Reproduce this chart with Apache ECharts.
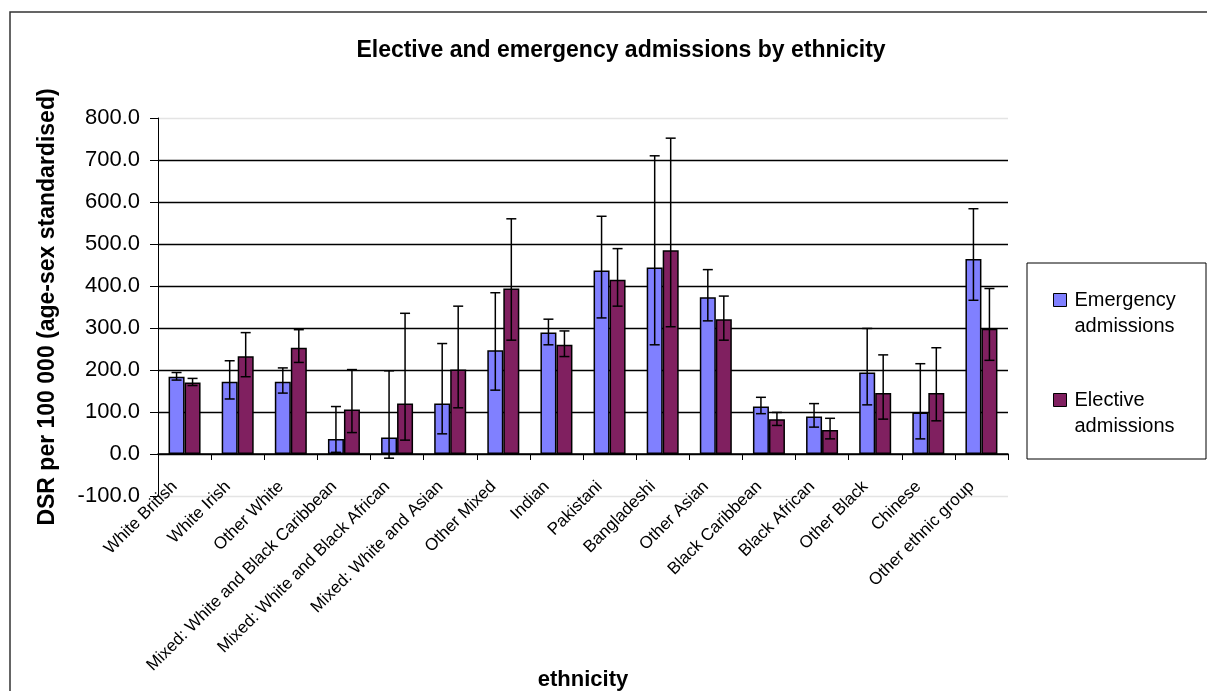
<!DOCTYPE html>
<html>
<head>
<meta charset="utf-8">
<script src="https://cdn.jsdelivr.net/npm/echarts@6/dist/echarts.min.js"></script>
<style>
  html, body { margin: 0; padding: 0; background: #fff; }
  #chart { width: 1207px; height: 691px; }
</style>
</head>
<body>
<div id="chart"></div>
<script>
// ethnic groups along the x axis
var categories = ['White British', 'White Irish', 'Other White', 'Mixed: White and Black Caribbean',
  'Mixed: White and Black African', 'Mixed: White and Asian', 'Other Mixed', 'Indian', 'Pakistani',
  'Bangladeshi', 'Other Asian', 'Black Caribbean', 'Black African', 'Other Black', 'Chinese',
  'Other ethnic group'];

// emergency admissions + confidence limits
var emergency = [184, 172, 172, 36, 39, 120, 247, 289, 437, 444, 373, 113, 89, 194, 99, 464];
var emergencyLow = [176, 131, 145, 4, -10, 48, 152, 260, 324, 260, 317, 96, 64, 117, 36, 366];
var emergencyHigh = [194, 222, 205, 113, 198, 263, 384, 321, 566, 710, 439, 135, 120, 299, 215, 584];

// elective admissions + confidence limits
var elective = [170, 233, 253, 106, 120, 201, 394, 260, 415, 485, 321, 83, 57, 145, 145, 298];
var electiveLow = [163, 184, 218, 51, 33, 110, 271, 232, 352, 303, 271, 68, 36, 83, 79, 223];
var electiveHigh = [180, 289, 296, 201, 335, 352, 560, 293, 489, 752, 376, 99, 85, 236, 253, 394];

var seriesNames = ['Emergency admissions', 'Elective admissions'];

var FONT = "'Liberation Sans', Arial, sans-serif";
var BAR_W = 16;

function errData(low, high) {
  return low.map(function (v, i) { return [i, v, high[i]]; });
}

// error bar drawn beside the bar centre (side = -1 left bar, +1 right bar)
function errorBar(side) {
  return function (params, api) {
    var i = api.value(0);
    var lo = api.coord([i, api.value(1)]);
    var hi = api.coord([i, api.value(2)]);
    var x = lo[0] + side * BAR_W / 2;
    var cap = 5;
    var style = { stroke: '#000', lineWidth: 1.5 };
    return {
      type: 'group',
      children: [
        { type: 'line', shape: { x1: x, y1: hi[1], x2: x, y2: lo[1] }, style: style },
        { type: 'line', shape: { x1: x - cap, y1: hi[1], x2: x + cap, y2: hi[1] }, style: style },
        { type: 'line', shape: { x1: x - cap, y1: lo[1], x2: x + cap, y2: lo[1] }, style: style }
      ]
    };
  };
}

var chart = echarts.init(document.getElementById('chart'));

var option = {
  backgroundColor: '#fff',
  animation: false,
  textStyle: { fontFamily: FONT },
  title: {
    text: 'Elective and emergency admissions by ethnicity',
    left: 616,
    top: 34,
    textAlign: 'center',
    textStyle: { fontSize: 23, fontWeight: 'bold', color: '#000', fontFamily: FONT }
  },
  graphic: [
    {
      type: 'rect',
      shape: { x: 10, y: 12, width: 1300, height: 800 },
      style: { fill: 'none', stroke: '#333', lineWidth: 1.5 },
      silent: true
    },
    {
      type: 'rect',
      shape: { x: 1027, y: 263, width: 179, height: 196 },
      style: { fill: '#fff', stroke: '#000', lineWidth: 1 },
      silent: true
    }
  ],
  legend: {
    data: seriesNames,
    orient: 'vertical',
    left: 1048,
    top: 256,
    itemWidth: 13,
    itemHeight: 13,
    itemGap: 22,
    icon: 'rect',
    itemStyle: { borderColor: '#000', borderWidth: 1 },
    // leading blank line keeps the swatch level with the first text line
    formatter: function (name) { return ' \n' + name.replace(' ', '\n'); },
    textStyle: { fontSize: 20, lineHeight: 26, color: '#000', fontFamily: FONT, padding: [0, 0, 0, 3] }
  },
  grid: { left: 158, right: 199, top: 118, bottom: 195, containLabel: false, outerBoundsMode: 'none' },
  xAxis: {
    type: 'category',
    data: categories,
    name: 'ethnicity',
    nameLocation: 'middle',
    nameGap: 173,
    nameMoveOverlap: false,
    nameTextStyle: { fontSize: 22, fontWeight: 'bold', color: '#000', fontFamily: FONT },
    axisLine: { onZero: true, lineStyle: { color: '#000', width: 1.5 } },
    axisTick: { show: true, length: 6, lineStyle: { color: '#000' } },
    axisLabel: {
      interval: 0, rotate: 45, fontSize: 17, color: '#000', margin: -22, fontFamily: FONT,
      padding: [0, 14, 0, 0]
    },
    splitLine: { show: false }
  },
  yAxis: {
    type: 'value',
    min: -100,
    max: 800,
    interval: 100,
    name: 'DSR per 100 000 (age-sex standardised)',
    nameLocation: 'middle',
    nameGap: 99,
    nameTextStyle: { fontSize: 23, fontWeight: 'bold', color: '#000', fontFamily: FONT },
    axisLine: { show: true, lineStyle: { color: '#000', width: 1 } },
    axisTick: { show: true, length: 8, lineStyle: { color: '#000' } },
    axisLabel: {
      fontSize: 22, color: '#000', margin: 18, fontFamily: FONT,
      formatter: function (v) { return v.toFixed(1); }
    },
    splitLine: {
      show: true,
      lineStyle: {
        color: ['#e4e4e4', '#000', '#000', '#000', '#000', '#000', '#000', '#000', '#000', '#e4e4e4'],
        width: 1.3
      }
    }
  },
  series: [
    {
      name: seriesNames[0],
      type: 'bar',
      data: emergency,
      barWidth: BAR_W,
      barGap: '0%',
      itemStyle: { color: '#8080ff', borderColor: '#000', borderWidth: 1.5 }
    },
    {
      name: seriesNames[1],
      type: 'bar',
      data: elective,
      barWidth: BAR_W,
      barGap: '0%',
      itemStyle: { color: '#802060', borderColor: '#000', borderWidth: 1.5 }
    },
    {
      type: 'custom',
      renderItem: errorBar(-1),
      data: errData(emergencyLow, emergencyHigh),
      encode: { x: 0, y: [1, 2] },
      z: 5
    },
    {
      type: 'custom',
      renderItem: errorBar(1),
      data: errData(electiveLow, electiveHigh),
      encode: { x: 0, y: [1, 2] },
      z: 5
    }
  ]
};

chart.setOption(option);
</script>
</body>
</html>
